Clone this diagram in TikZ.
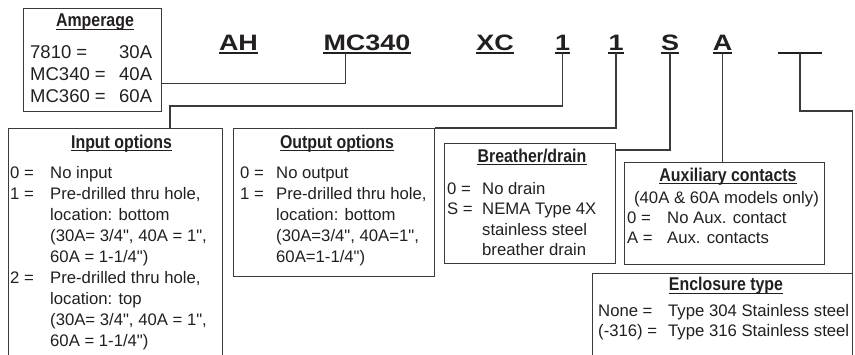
\documentclass[tikz,border=0pt]{standalone}
\usepackage{fontspec}
\setmainfont{Liberation Sans}
\newfontfamily\bodyfont{Liberation Sans}
\newfontfamily\codefont{Liberation Sans}[FakeStretch=1.21]
\newfontfamily\titlefont{Liberation Sans}[FakeStretch=0.86]
\definecolor{ink}{HTML}{231F20}
\definecolor{rulec}{HTML}{3A3A3A}
\begin{document}
\begin{tikzpicture}[x=1pt,y=-1pt,
  box/.style={draw=rulec, line width=0.9pt, inner sep=0pt, anchor=north west},
  code/.style={font=\codefont\bfseries\fontsize{22.3}{24}\selectfont, inner sep=0pt, anchor=base, text=ink},
  ttl/.style={font=\titlefont\bfseries\fontsize{18.5}{18}\selectfont, inner sep=0pt, anchor=base, text=ink},
  txt/.style={font=\bodyfont\fontsize{16.7}{20}\selectfont, inner sep=0pt, anchor=base west, text=ink},
  amptxt/.style={font=\bodyfont\fontsize{18.5}{22}\selectfont, inner sep=0pt, anchor=base west, text=ink},
  conn/.style={draw=rulec, line width=1.1pt},
  uline/.style={draw=ink, line width=1.4pt},
  tline/.style={draw=ink, line width=0.8pt}]
\useasboundingbox (0,0) rectangle (855,354);

% boxes
\node[box, minimum width=138pt, minimum height=103pt] (amp) at (23,8) {};
\node[box, minimum width=214pt, minimum height=240pt] (inp) at (8,128) {};
\node[box, minimum width=201pt, minimum height=148pt] (outp) at (233,128) {};
\node[box, minimum width=171pt, minimum height=120pt] (br) at (444,143) {};
\node[box, minimum width=200pt, minimum height=102pt] (aux) at (624,162) {};
\node[box, minimum width=260pt, minimum height=100pt] (enc) at (592,273) {};

% code letters
\node[code] (ah) at (238.5,50.5) {AH};
\node[code] (mc) at (367,50.5) {MC340};
\node[code] (xc) at (495,50.5) {XC};
\node[code] (oneA) at (562.5,50.5) {1};
\node[code] (oneB) at (616,50.5) {1};
\node[code] (sS) at (670,50.5) {S};
\node[code] (aA) at (722.5,50.5) {A};
\coordinate (blankL) at (778,53);
\coordinate (blankR) at (822,53);
\coordinate (blankM) at (800,53);
\foreach \n in {ah,mc,xc,oneA,oneB,sS,aA}
  \draw[uline] ([yshift=-2.5pt]\n.base west) -- ([yshift=-2.5pt]\n.base east);
\draw[uline] (blankL) -- (blankR);

% connectors
\draw[conn] ([xshift=22pt,yshift=-2.5pt]mc.base west) |- ([yshift=28pt]amp.south east);
\draw[conn] ([yshift=-2.5pt]oneA.base) -- ++(0,53) -| ([xshift=162pt]inp.north west);
\draw[conn] ([yshift=-2.5pt]oneB.base) |- (outp.north east);
\draw[conn] ([yshift=-2.5pt]sS.base) |- ([yshift=-7pt]br.north east);
\draw[conn] ([yshift=-2.5pt]aA.base) -- (aA.base |- aux.north);
\draw[conn] (blankM) -- ++(0,58) -| (enc.north east);

% titles
\node[ttl] (tamp) at (95,26.5) {Amperage};
\node[ttl] (tinp) at (121.5,148) {Input options};
\node[ttl] (tout) at (337,148) {Output options};
\node[ttl] (tbr) at (532,162) {Breather/drain};
\node[ttl] (taux) at (728,181) {Auxiliary contacts};
\node[ttl] (tenc) at (726,290.5) {Enclosure type};
\foreach \n in {tamp,tinp,tout,tbr,taux,tenc}
  \draw[tline] ([yshift=-2.5pt]\n.base west) -- ([yshift=-2.5pt]\n.base east);

% Amperage
\node[amptxt] (a1l) at (30,58) {7810 =};
\node[amptxt] (a1r) at (119,58) {30A};
\node[amptxt] (a2l) at (30,80) {MC340 =};
\node[amptxt] (a2r) at (119,80) {40A};
\node[amptxt] (a3l) at (30,102) {MC360 =};
\node[amptxt] (a3r) at (119,102) {60A};

% Input options
\node[txt] (i0l) at (10,178) {0 =};
\node[txt] (i0r) at (50,178) {No input};
\node[txt] (i1l) at (10,199) {1 =};
\node[txt] (i1r) at (50,199) {Pre-drilled thru hole,};
\node[txt] (i1b) at (50,220) {location: bottom};
\node[txt] (i1c) at (50,241) {(30A= 3/4", 40A = 1",};
\node[txt] (i1d) at (50,262) {60A = 1-1/4")};
\node[txt] (i2l) at (10,283) {2 =};
\node[txt] (i2r) at (50,283) {Pre-drilled thru hole,};
\node[txt] (i2b) at (50,304) {location: top};
\node[txt] (i2c) at (50,325) {(30A= 3/4", 40A = 1",};
\node[txt] (i2d) at (50,346) {60A = 1-1/4")};

% Output options
\node[txt] (o0l) at (240,178) {0 =};
\node[txt] (o0r) at (276,178) {No output};
\node[txt] (o1l) at (240,199) {1 =};
\node[txt] (o1r) at (276,199) {Pre-drilled thru hole,};
\node[txt] (o1b) at (276,220) {location: bottom};
\node[txt] (o1c) at (276,241) {(30A=3/4", 40A=1",};
\node[txt] (o1d) at (276,262) {60A=1-1/4")};

% Breather/drain
\node[txt] (b0l) at (447,194) {0 =};
\node[txt] (b0r) at (482,194) {No drain};
\node[txt] (b1l) at (447,214.5) {S =};
\node[txt] (b1r) at (482,214.5) {NEMA Type 4X};
\node[txt] (b1b) at (482,235) {stainless steel};
\node[txt] (b1c) at (482,255.5) {breather drain};

% Auxiliary contacts
\node[txt, anchor=base] (x0) at (726.5,203) {(40A \& 60A models only)};
\node[txt] (x1l) at (627,223) {0 =};
\node[txt] (x1r) at (667,223) {No Aux. contact};
\node[txt] (x2l) at (627,243) {A =};
\node[txt] (x2r) at (667,243) {Aux. contacts};

% Enclosure type
\node[txt] (e1l) at (598,316) {None =};
\node[txt] (e1r) at (668,316) {Type 304 Stainless steel};
\node[txt] (e2l) at (598,336) {(-316) =};
\node[txt] (e2r) at (668,336) {Type 316 Stainless steel};
\end{tikzpicture}
\end{document}
